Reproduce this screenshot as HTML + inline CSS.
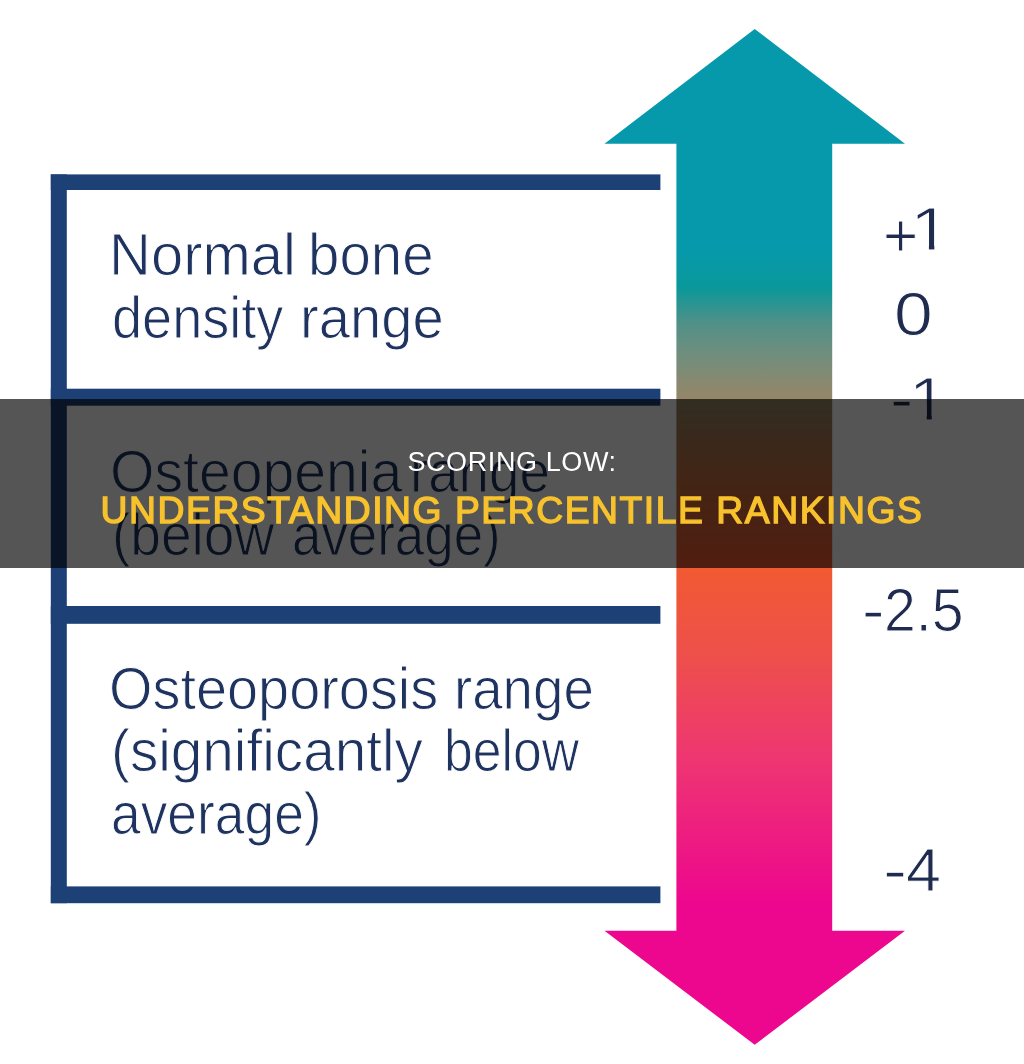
<!DOCTYPE html>
<html lang="en">
<head>
<meta charset="utf-8">
<title>Scoring Low: Understanding Percentile Rankings</title>
<style>
html,body{margin:0;padding:0;background:#fff;}
body{width:1024px;height:1064px;position:relative;overflow:hidden;font-family:"Liberation Sans",Arial,sans-serif;}
#art{position:absolute;left:0;top:0;width:1024px;height:1064px;display:block;filter:blur(0.6px);}
.box,.lab{position:absolute;left:0;top:0;width:0;height:0;}
.t,.n{position:absolute;display:block;white-space:nowrap;color:#1f3360;transform-origin:0 50%;filter:blur(0.5px);-webkit-text-stroke:1px #fff;}
.t{font-size:59px;line-height:59px;}
.n{font-size:61px;line-height:61px;color:#1f2c50;}
#banner{position:absolute;left:0;top:399px;width:1024px;height:169px;background:rgba(0,0,0,0.665);text-align:center;}
#banner h1{margin:0;font-weight:normal;}
.l1{position:absolute;left:0;right:0;top:45px;color:#fff;font-size:27px;line-height:36px;letter-spacing:0.6px;text-transform:uppercase;}
.l2{position:absolute;left:0;right:0;top:88.1px;color:#f8c22d;font-size:36px;line-height:48px;letter-spacing:1.5px;text-transform:uppercase;-webkit-text-stroke:1.3px #f8c22d;transform:scaleX(1.035);}
</style>
</head>
<body>
<svg id="art" width="1024" height="1064" viewBox="0 0 1024 1064">
  <defs>
    <linearGradient id="g" gradientUnits="userSpaceOnUse" x1="0" y1="29" x2="0" y2="1045">
      <stop offset="0" stop-color="#0699ab"/>
      <stop offset="0.2175" stop-color="#0699ab"/>
      <stop offset="0.254" stop-color="#09989a"/>
      <stop offset="0.289" stop-color="#4f9088"/>
      <stop offset="0.314" stop-color="#6a8f80"/>
      <stop offset="0.359" stop-color="#92876a"/>
      <stop offset="0.45" stop-color="#c96e3c"/>
      <stop offset="0.53" stop-color="#f15a32"/>
      <stop offset="0.62" stop-color="#ee4f4c"/>
      <stop offset="0.72" stop-color="#ee3572"/>
      <stop offset="0.86" stop-color="#ed078e"/>
      <stop offset="1" stop-color="#ed078e"/>
    </linearGradient>
  </defs>
  <g fill="#1d4077">
    <rect x="50.8" y="174.4" width="609.6" height="15.6"/>
    <rect x="50.8" y="388.7" width="609.6" height="17"/>
    <rect x="50.8" y="606" width="609.6" height="17.8"/>
    <rect x="50.8" y="886.4" width="609.6" height="16.8"/>
    <rect x="50.8" y="174.4" width="16" height="728.8"/>
  </g>
  <polygon fill="url(#g)" points="754.7,29 905,143.7 832.2,143.7 832.2,930.7 905,930.7 754.7,1044.8 604.5,930.7 676.4,930.7 676.4,143.7 604.5,143.7"/>
</svg>
<div class="box"><span class="t" style="left:109.2px;top:225.7px;transform:scaleX(0.9829);">Normal</span> <span class="t" style="left:308.2px;top:225.7px;transform:scaleX(0.9565);">bone</span><br><span class="t" style="left:112.4px;top:289.0px;transform:scaleX(0.9169);">density</span> <span class="t" style="left:299.7px;top:289.0px;transform:scaleX(0.9517);">range</span></div>
<div class="box"><span class="t" style="left:110.4px;top:443.0px;transform:scaleX(0.9688);">Osteopenia</span> <span class="t" style="left:410.4px;top:443.0px;transform:scaleX(0.9266);">range</span><br><span class="t" style="left:112.2px;top:506.2px;transform:scaleX(0.9337);">(below</span> <span class="t" style="left:291.8px;top:506.2px;transform:scaleX(0.8960);">average)</span></div>
<div class="box"><span class="t" style="left:109.1px;top:659.5px;transform:scaleX(0.9471);">Osteoporosis</span> <span class="t" style="left:453.9px;top:659.5px;transform:scaleX(0.9266);">range</span><br><span class="t" style="left:111.0px;top:722.3px;transform:scaleX(0.9608);">(significantly</span> <span class="t" style="left:443.6px;top:722.3px;transform:scaleX(0.8758);">below</span><br><span class="t" style="left:110.6px;top:785.0px;transform:scaleX(0.9044);">average)</span></div>
<div class="lab"><span class="n" style="left:882.6px;top:204.6px;transform:scaleX(0.9893);">+</span><span class="n" style="left:910.0px;top:198.8px;transform:scaleX(1.2000);clip-path:polygon(0 0,0.3325em 0,0.3325em 1em,0.2585em 1em,0.2585em 0.6em,0 0.6em);">1</span></div>
<div class="lab"><span class="n" style="left:894.1px;top:284.4px;transform:scaleX(1.1429);">0</span></div>
<div class="lab"><span class="n" style="left:889.6px;top:368.6px;transform:scaleX(1.1429);">-</span><span class="n" style="left:908.6px;top:368.6px;transform:scaleX(1.1214);clip-path:polygon(0 0,0.3325em 0,0.3325em 1em,0.2585em 1em,0.2585em 0.6em,0 0.6em);">1</span></div>
<div class="lab"><span class="n" style="left:862.4px;top:579.5px;transform:scaleX(1.1071);">-</span><span class="n" style="left:883.9px;top:579.5px;transform:scaleX(0.9372);">2.5</span></div>
<div class="lab"><span class="n" style="left:883.3px;top:839.5px;transform:scaleX(1.1857);">-</span><span class="n" style="left:906.0px;top:839.5px;transform:scaleX(1.0300);">4</span></div>
<div id="banner">
  <h1><span class="l1">Scoring Low:</span><span class="l2">Understanding Percentile Rankings</span></h1>
</div>
</body>
</html>
